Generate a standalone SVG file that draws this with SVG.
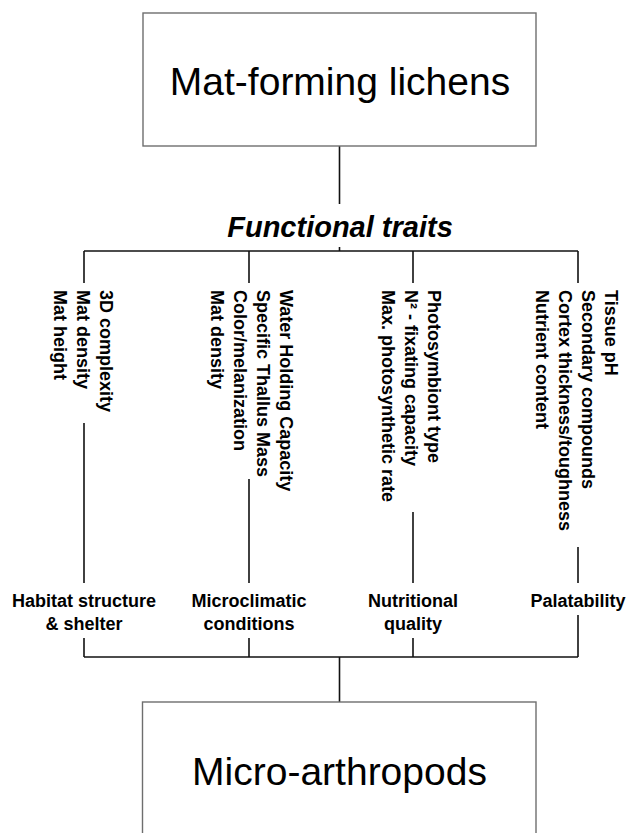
<svg xmlns="http://www.w3.org/2000/svg" width="629" height="833" viewBox="0 0 629 833">
<style>
.box{fill:#fff;stroke:#6e6e6e;stroke-width:1.4}
.title{font-family:"Liberation Sans",Arial,sans-serif;font-size:39px;fill:#000;text-anchor:middle}
.ft{font-family:"Liberation Sans",Arial,sans-serif;font-size:29px;font-weight:bold;font-style:italic;fill:#000;text-anchor:middle}
.tr{font-family:"Liberation Sans",Arial,sans-serif;font-size:18px;font-weight:bold;fill:#000}
.lb{font-family:"Liberation Sans",Arial,sans-serif;font-size:18px;font-weight:bold;fill:#000;text-anchor:middle}
.c{stroke:#111;stroke-width:1.6;fill:none}
</style>
<rect width="629" height="833" fill="#fff"/>
<g id="connectors">
<line class="c" x1="339.5" y1="146" x2="339.5" y2="204"/>
<line class="c" x1="339.5" y1="247" x2="339.5" y2="251"/>
<line class="c" x1="84" y1="251" x2="578" y2="251"/>
<line class="c" x1="84" y1="251" x2="84" y2="283"/>
<line class="c" x1="249" y1="251" x2="249" y2="283"/>
<line class="c" x1="413" y1="251" x2="413" y2="283"/>
<line class="c" x1="578" y1="251" x2="578" y2="283"/>
<line class="c" x1="84" y1="423" x2="84" y2="583"/>
<line class="c" x1="249" y1="479" x2="249" y2="583"/>
<line class="c" x1="413" y1="512" x2="413" y2="583"/>
<line class="c" x1="578" y1="547" x2="578" y2="583"/>
<line class="c" x1="84" y1="638" x2="84" y2="657"/>
<line class="c" x1="249" y1="638" x2="249" y2="657"/>
<line class="c" x1="413" y1="638" x2="413" y2="657"/>
<line class="c" x1="578" y1="615" x2="578" y2="657"/>
<line class="c" x1="84" y1="657" x2="578" y2="657"/>
<line class="c" x1="339.5" y1="657" x2="339.5" y2="702"/>
</g>
<g id="mat-forming-lichens">
<rect class="box" x="143" y="13" width="393" height="133"/>
<text class="title" x="340" y="95">Mat-forming lichens</text>
</g>
<g id="functional-traits">
<text class="ft" x="340" y="237">Functional traits</text>
</g>
<g id="traits-habitat">
<text class="tr" transform="translate(100,290) rotate(90)"><tspan x="0" y="0">3D complexity</tspan><tspan x="0" y="23">Mat density</tspan><tspan x="0" y="46">Mat height</tspan></text>
</g>
<g id="traits-microclimate">
<text class="tr" transform="translate(280,290) rotate(90)"><tspan x="0" y="0">Water Holding Capacity</tspan><tspan x="0" y="23">Specific Thallus Mass</tspan><tspan x="0" y="46">Color/melanization</tspan><tspan x="0" y="69">Mat density</tspan></text>
</g>
<g id="traits-nutrition">
<text class="tr" transform="translate(428,290) rotate(90)"><tspan x="0" y="0">Photosymbiont type</tspan><tspan x="0" y="23">N² - fixating capacity</tspan><tspan x="0" y="46">Max. photosynthetic rate</tspan></text>
</g>
<g id="traits-palatability">
<text class="tr" transform="translate(605,290) rotate(90)"><tspan x="0" y="0">Tissue pH</tspan><tspan x="0" y="23">Secondary compounds</tspan><tspan x="0" y="46">Cortex thickness/toughness</tspan><tspan x="0" y="69">Nutrient content</tspan></text>
</g>
<g id="habitat-structure">
<text class="lb" x="84" y="607"><tspan x="84" y="607">Habitat structure</tspan><tspan x="84" y="630">&amp; shelter</tspan></text>
</g>
<g id="microclimatic-conditions">
<text class="lb" x="249" y="607"><tspan x="249" y="607">Microclimatic</tspan><tspan x="249" y="630">conditions</tspan></text>
</g>
<g id="nutritional-quality">
<text class="lb" x="413" y="607"><tspan x="413" y="607">Nutritional</tspan><tspan x="413" y="630">quality</tspan></text>
</g>
<g id="palatability">
<text class="lb" x="578" y="607">Palatability</text>
</g>
<g id="micro-arthropods">
<rect class="box" x="142.5" y="702" width="393.5" height="150"/>
<text class="title" x="339.5" y="785">Micro-arthropods</text>
</g>
</svg>
